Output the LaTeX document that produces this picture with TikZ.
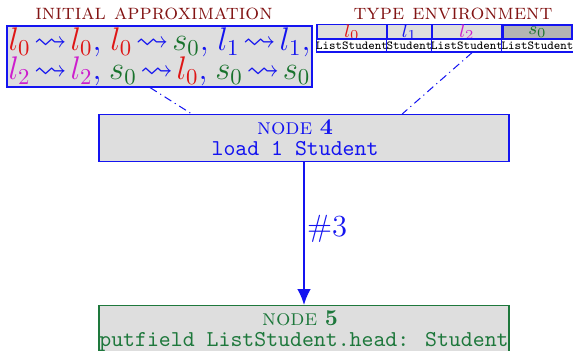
\documentclass[tikz,border=0pt]{standalone}
\usepackage{amssymb}
\usetikzlibrary{arrows.meta,calc}
\definecolor{cred}{RGB}{222,22,22}
\definecolor{cblue}{RGB}{20,20,240}
\definecolor{cmag}{RGB}{205,30,205}
\definecolor{cgreen}{RGB}{25,115,45}
\definecolor{ntgreen}{RGB}{30,120,60}
\definecolor{cmaroon}{RGB}{130,20,20}
\definecolor{cgray}{RGB}{222,222,222}
\definecolor{cdgray}{RGB}{180,180,180}
\def\s{0.4405pt}
\newlength\apw
\setlength\apw{133pt}
\newcommand\rl[1]{{\color{cred}#1}}
\newcommand\gr[1]{{\color{cgreen}#1}}
\newcommand\mg[1]{{\color{cmag}#1}}
\newcommand\lt{\mkern2mu{\leadsto}\mkern2mu}
\tikzset{
  titlelbl/.style={text=cmaroon, inner sep=0pt, font=\fontsize{9.6}{11}\selectfont},
  apbox/.style={draw=cblue, fill=cgray, line width=0.5pt, inner sep=0pt,
    minimum width={305*\s}, minimum height={61*\s}, align=center, text=cblue,
    font=\fontsize{14.4}{12.8}\selectfont},
  flowbox/.style={fill=cgray, line width=0.5pt, inner sep=0pt,
    minimum width={410*\s}, minimum height={47*\s}, align=center,
    font=\fontsize{10}{9.3}\selectfont},
  hcell/.style={draw=cblue, fill=cgray, line width=0.5pt, inner sep=0pt,
    minimum height={14*\s}, font=\fontsize{8}{9}\selectfont},
  bcell/.style={draw=cblue, fill=white, line width=0.5pt, inner sep=0pt,
    minimum height={13*\s}, font=\fontsize{5.4}{6}\selectfont\ttfamily},
  linkline/.style={draw=cblue, line width=0.45pt,
    dash pattern=on 3.5pt off 1.8pt on 0.5pt off 1.8pt},
  flowarrow/.style={draw=cblue, line width=0.75pt,
    -{Latex[length=7pt,width=6pt]}},
}
\begin{document}
\begin{tikzpicture}[x={(\s,0)}, y={(0,-\s)}]
\useasboundingbox (0,0) rectangle (573,351);
\clip (0,0) rectangle (573,351);
% titles
\node[titlelbl] (t1) at (154,13.5) {\textsc{initial approximation}};
\node[titlelbl] (t2) at (453,13.5) {\textsc{type environment}};
% initial approximation box
\node[apbox] (approx) at (159.5,56.5) {%
  \hbox to\apw{$\rl{l_0}\lt\rl{l_0}$,\hss$\rl{l_0}\lt\gr{s_0}$,\hss$l_1\lt l_1$,}\\
  \hbox to\apw{$\mg{l_2}\lt\mg{l_2}$,\hss$\gr{s_0}\lt\rl{l_0}$,\hss$\gr{s_0}\lt\gr{s_0}$}};
% type environment table
\node[hcell, minimum width={70*\s}, text=cred] (h0) at (352,32) {$l_0$};
\node[hcell, minimum width={45*\s}, text=cblue] (h1) at (409.5,32) {$l_1$};
\node[hcell, minimum width={70*\s}, text=cmag] (h2) at (467,32) {$l_2$};
\node[hcell, minimum width={69*\s}, fill=cdgray, text=cgreen] (h3) at (537.5,32) {$s_0$};
\node[bcell, minimum width={70*\s}] (b0) at (352,45.5) {ListStudent};
\node[bcell, minimum width={45*\s}] (b1) at (409.5,45.5) {Student};
\node[bcell, minimum width={70*\s}] (b2) at (467,45.5) {ListStudent};
\node[bcell, minimum width={69*\s}] (b3) at (537.5,45.5) {ListStudent};
% flow nodes
\node[flowbox, draw=cblue, text=cblue] (n4) at (304,138)
  {\textsc{node} \textbf{4}\hspace*{7.9pt}\\\texttt{load 1 Student}\hspace*{7.9pt}};
\node[flowbox, draw=ntgreen, text=ntgreen] (n5) at (304,329)
  {\textsc{node} \textbf{5}\hspace*{3.5pt}\\\texttt{\smash{putfield ListStudent.head: Student}}};
% links
\draw[linkline] ($(approx.south west)!0.469!(approx.south east)$) --
  ($(n4.north west)!0.227!(n4.north east)$);
\draw[linkline] ($(b2.south west)!0.571!(b2.south east)$) --
  ($(n4.north west)!0.739!(n4.north east)$);
\draw[flowarrow] (n4.south) -- node[pos=0.47, right, inner sep=1pt, text=cblue,
  font=\fontsize{13.5}{15}\selectfont] {\#3} (n5.north);
\end{tikzpicture}
\end{document}
